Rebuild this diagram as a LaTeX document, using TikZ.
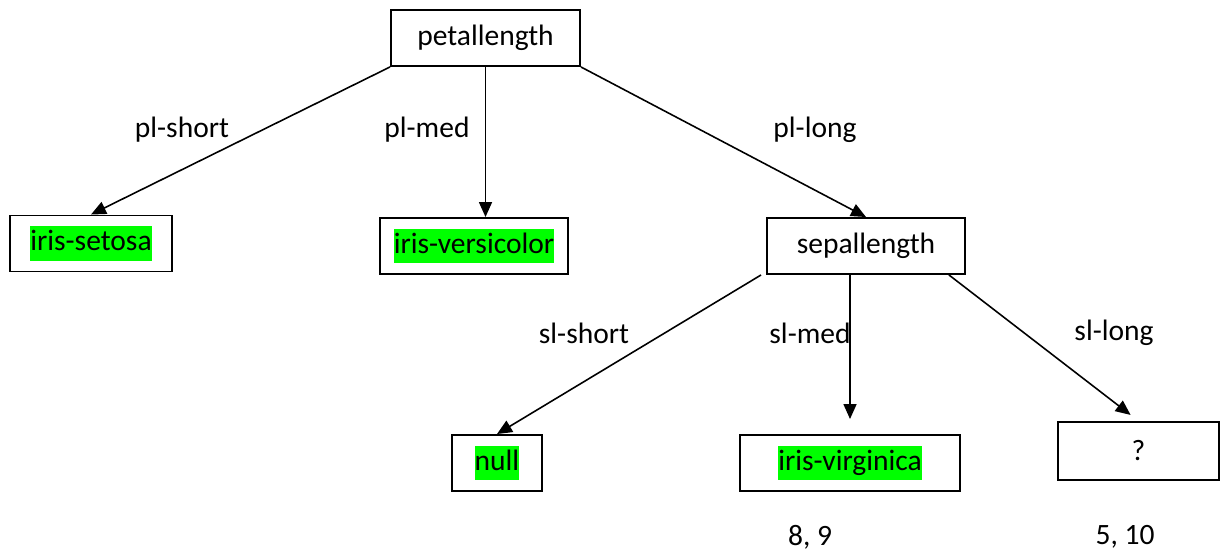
\documentclass[tikz,border=0pt]{standalone}
\usepackage{fontspec}
\setmainfont{Carlito}
\usetikzlibrary{arrows.meta,calc}
\definecolor{hlgreen}{RGB}{0,255,0}
\newcommand{\hlg}[1]{{\setlength{\fboxsep}{0pt}\colorbox{hlgreen}{\rule[-5.5pt]{0pt}{19.5pt}#1}}}
\tikzset{
	attr/.style={draw, line width=1.1pt, inner sep=0pt, minimum height=1.12cm},
	edge/.style={line width=0.9pt, -{Triangle[length=0.3cm, width=0.26cm]}},
	lbl/.style={inner sep=0pt}
}
\begin{document}
\begin{tikzpicture}[x=0.02cm, y=-0.02cm, font=\fontsize{16.8}{20}\selectfont]
	\useasboundingbox (0,0) rectangle (1222,550);
	% nodes of the tree
	\node[attr, minimum width=3.78cm] (petal) at (485.5,38) {petallength};
	\node[attr, minimum width=3.24cm] (setosa) at (91,243.5) {\hlg{iris-setosa}};
	\node[attr, minimum width=3.76cm] (versi) at (474,246) {\hlg{iris-versicolor}};
	\node[attr, minimum width=3.96cm] (sepal) at (866,246) {sepallength};
	\node[attr, minimum width=1.80cm] (null) at (497,463) {\hlg{null}};
	\node[attr, minimum width=4.40cm] (virg) at (850,463) {\hlg{iris-virginica}};
	\node[attr, minimum width=3.22cm, minimum height=1.16cm] (unk) at (1138.5,451) {?};
	% branches
	\draw[edge] (petal.south west) -- (setosa.north);
	\draw[edge] (petal.south) -- (petal.south |- versi.north);
	\draw[edge] (petal.south east) -- (sepal.north);
	\draw[edge] ($(sepal.south west)+(-5,0)$) -- (null.north);
	\draw[edge, shorten >=0.3cm] (sepal.south -| virg.north) -- (virg.north);
	\draw[edge, shorten >=0.2cm] ($(sepal.south east)+(-17,0)$) -- (unk.north);
	% branch labels
	\node[lbl] (plshort) at (182,130) {pl-short};
	\node[lbl] (plmed) at (427,130) {pl-med};
	\node[lbl] (pllong) at (815,130) {pl-long};
	\node[lbl] (slshort) at (584,333) {sl-short};
	\node[lbl] (slmed) at (810,333) {sl-med};
	\node[lbl] (sllong) at (1114,333) {sl-long};
	% counts
	\node[lbl] (cvirg) at (810,537) {8, 9};
	\node[lbl] (cunk) at (1125,537) {5, 10};
\end{tikzpicture}
\end{document}
